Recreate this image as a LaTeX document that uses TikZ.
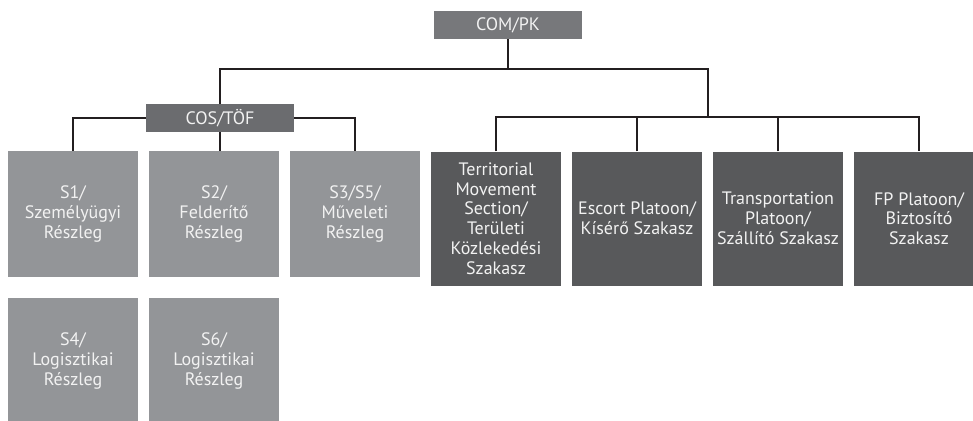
\documentclass[tikz,border=0pt]{standalone}
\usepackage{fontspec}
\setmainfont{PT Sans}
\usepackage{tikz}
\usetikzlibrary{positioning}
\definecolor{headgrey}{HTML}{77787B}
\definecolor{staffgrey}{HTML}{939598}
\definecolor{platgrey}{HTML}{58595B}
\definecolor{wiregrey}{HTML}{231F20}
\definecolor{lettering}{HTML}{F2F2F2}

\begin{document}
\begin{tikzpicture}[
  x=1pt, y=-1pt,
  font=\fontsize{18}{19.8}\selectfont,
  headbox/.style={fill=headgrey, text=lettering, minimum width=148pt, minimum height=28pt, inner sep=0pt},
  staffbox/.style={fill=staffgrey, text=lettering, minimum width=130pt, minimum height=126pt, inner sep=0pt, align=center},
  platoonbox/.style={fill=platgrey, text=lettering, minimum width=130pt, minimum height=134pt, inner sep=0pt, align=center},
  wire/.style={draw=wiregrey, line width=2pt}
]
\clip (0,0) rectangle (973,420);
\fill[white] (0,0) rectangle (973,420);

% command and staff
\node[headbox] (compk) at (508,25) {COM/PK};
\node[headbox, fill=headgrey!90!black] (costof) at (220,118) {COS/TÖF};

\node[staffbox] (s1) at (73,214) {S1/\\Személyügyi\\Részleg};
\node[staffbox] (s2) at (214,214) {S2/\\Felderítő\\Részleg};
\node[staffbox] (s3) at (355,214) {S3/S5/\\Műveleti\\Részleg};
\node[staffbox] (s4) at (73,361) {S4/\\Logisztikai\\Részleg};
\node[staffbox] (s6) at (214,361) {S6/\\Logisztikai\\Részleg};

% platoons
\node[platoonbox] (tmove) at (496,218.5) {Territorial\\Movement\\Section/\\Területi\\Közlekedési\\Szakasz};
\node[platoonbox] (escort) at (637,218.5) {Escort Platoon/\\Kísérő Szakasz};
\node[platoonbox] (transp) at (778,218.5) {Transportation\\Platoon/\\Szállító Szakasz};
\node[platoonbox] (fp) at (919,218.5) {FP Platoon/\\Biztosító\\Szakasz};

% bus lines
\coordinate (topbus) at (0,68.5);
\coordinate (jn) at (707.5,117);

\draw[wire] (compk.south) -- (compk.south |- topbus);
\draw[wire] (costof.north) |- (jn |- topbus) -- (jn);
\draw[wire] (costof.west) -| (s1.north);
\draw[wire] (costof.east) -| (s3.north);
\draw[wire] (costof.south) -- (costof.south |- s2.north);
\draw[wire] (tmove.north) |- (fp.north |- jn) -- (fp.north);
\foreach \p in {escort,transp}
  \draw[wire] (\p.north) -- (\p.north |- jn);
\end{tikzpicture}
\end{document}
